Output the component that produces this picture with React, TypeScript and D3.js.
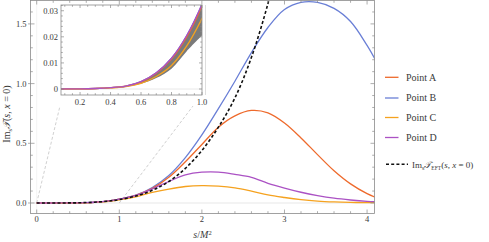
import React from "react";
import * as d3 from "d3";

// ---------- data ----------
const sGrid = [0, 0.1, 0.2, 0.3, 0.4, 0.5, 0.6, 0.7, 0.8, 0.9, 1.0, 1.2, 1.4, 1.6, 1.8, 2.0, 2.2, 2.4, 2.6, 2.8, 3.0, 3.2, 3.4, 3.6, 3.8, 4.0, 4.1];
const pointA = [0, 0.00001, 0.00005, 0.0002, 0.0005, 0.0011, 0.0027, 0.006, 0.0115, 0.02, 0.0318, 0.064, 0.122, 0.215, 0.345, 0.49, 0.635, 0.73, 0.775, 0.755, 0.67, 0.545, 0.405, 0.27, 0.16, 0.078, 0.048];
const pointB = [0, 0.00001, 0.00005, 0.0002, 0.0005, 0.0011, 0.0028, 0.0062, 0.0118, 0.0205, 0.0325, 0.065, 0.13, 0.23, 0.38, 0.57, 0.79, 1.02, 1.26, 1.47, 1.62, 1.68, 1.68, 1.63, 1.52, 1.32, 1.2];
const pointC = [0, 0.00001, 0.00004, 0.00015, 0.0004, 0.0009, 0.0022, 0.0048, 0.009, 0.0165, 0.027, 0.052, 0.088, 0.117, 0.138, 0.145, 0.141, 0.127, 0.1, 0.068, 0.046, 0.028, 0.016, 0.009, 0.005, 0.003, 0.003];
const pointD = [0, 0.00001, 0.00005, 0.0002, 0.0005, 0.0011, 0.0028, 0.0062, 0.0118, 0.0205, 0.0325, 0.063, 0.118, 0.18, 0.235, 0.258, 0.259, 0.24, 0.215, 0.165, 0.125, 0.09, 0.062, 0.04, 0.025, 0.014, 0.011];

const sEft = [0, 0.1, 0.2, 0.3, 0.4, 0.5, 0.6, 0.7, 0.8, 0.9, 1.0, 1.2, 1.4, 1.6, 1.8, 2.0, 2.2, 2.4, 2.6, 2.8, 2.9];
const eft = [0, 0, 0.00004, 0.0002, 0.0007, 0.0017, 0.0036, 0.0067, 0.0115, 0.0184, 0.028, 0.058, 0.106, 0.18, 0.29, 0.44, 0.635, 0.88, 1.22, 1.67, 1.95];

const bandS = [0.3, 0.4, 0.5, 0.6, 0.7, 0.8, 0.9, 1.0];
const bandLower = [0.00015, 0.0004, 0.0008, 0.002, 0.0042, 0.0078, 0.0145, 0.0205];
const bandUpper = [0.0002, 0.0005, 0.0011, 0.0028, 0.0062, 0.0118, 0.0205, 0.0325];

const seriesNames = ["Point A", "Point B", "Point C", "Point D"];
const seriesColors = ["#EE6A2C", "#6A7FD6", "#F5A21F", "#AB52C4"];
const seriesValues = [pointA, pointB, pointC, pointD];
const drawOrder = [1, 0, 2, 3];

const xTicksMain = [0, 1, 2, 3, 4];
const yTicksMain = [0, 0.5, 1.0, 1.5];
const yTickLabelsMain = ["0.0", "0.5", "1.0", "1.5"];
const xTicksInset = [0.2, 0.4, 0.6, 0.8, 1.0];
const xTickLabelsInset = ["0.2", "0.4", "0.6", "0.8", "1.0"];
const yTicksInset = [0, 0.01, 0.02, 0.03];
const yTickLabelsInset = ["0", "0.01", "0.02", "0.03"];

// ---------- layout ----------
const W = 489;
const H = 242;
const FONT = "'Liberation Serif', 'Times New Roman', serif";
const FRAME = "#8a8a8a";
const LABEL = "#3a3a3a";

const main = { left: 30.5, right: 374.5, top: 0.5, bottom: 213.5 };
const inset = { left: 61, right: 202, top: 5, bottom: 95 };

const x = d3.scaleLinear().domain([-0.075, 4.09]).range([main.left, main.right]);
const y = d3.scaleLinear().domain([-0.088, 1.696]).range([main.bottom, main.top]);
const ix = d3.scaleLinear().domain([0.075, 1.0]).range([inset.left, inset.right]);
const iy = d3.scaleLinear().domain([-0.0023, 0.0322]).range([inset.bottom, inset.top]);

const range = (a: number, b: number, step: number) => {
  const out: number[] = [];
  for (let i = 0; a + i * step <= b + 1e-9; i++) out.push(+(a + i * step).toFixed(6));
  return out;
};

function Ticks({ xs, ys, xt, yt, xMinor, yMinor, box, len, minorLen }: any) {
  const els: any[] = [];
  const isMajorX = (v: number) => xt.some((t: number) => Math.abs(t - v) < 1e-6);
  const isMajorY = (v: number) => yt.some((t: number) => Math.abs(t - v) < 1e-6);
  xMinor.forEach((v: number, i: number) => {
    const px = xs(v);
    if (px < box.left || px > box.right) return;
    const l = isMajorX(v) ? len : minorLen;
    els.push(<line key={"xb" + i} x1={px} x2={px} y1={box.bottom} y2={box.bottom - l} />);
    els.push(<line key={"xt" + i} x1={px} x2={px} y1={box.top} y2={box.top + l} />);
  });
  yMinor.forEach((v: number, i: number) => {
    const py = ys(v);
    if (py < box.top || py > box.bottom) return;
    const l = isMajorY(v) ? len : minorLen;
    els.push(<line key={"yl" + i} x1={box.left} x2={box.left + l} y1={py} y2={py} />);
    els.push(<line key={"yr" + i} x1={box.right} x2={box.right - l} y1={py} y2={py} />);
  });
  return <g stroke={FRAME} strokeWidth={0.7}>{els}</g>;
}

export default function App() {
  const lineMain = (xs: number[], vs: number[]) =>
    d3.line<number>().x((_, i) => x(xs[i])).y((v) => y(v)).curve(d3.curveCatmullRom.alpha(0.5))(vs) || "";
  const lineInset = (xs: number[], vs: number[]) =>
    d3.line<number>().x((_, i) => ix(xs[i])).y((v) => iy(v)).curve(d3.curveCatmullRom.alpha(0.5))(vs) || "";
  const bandPath =
    d3.area<number>()
      .x((_, i) => ix(bandS[i]))
      .y0((_, i) => iy(bandLower[i]))
      .y1((v) => iy(v))
      .curve(d3.curveCatmullRom.alpha(0.5))(bandUpper) || "";

  const legendY = [77.3, 98, 117.5, 137.5];

  return (
    <svg width={W} height={H} style={{ position: "absolute", left: 0, top: 0, background: "#fff", fontFamily: FONT }}>
      <defs>
        <clipPath id="mainClip">
          <rect x={main.left} y={main.top} width={main.right - main.left} height={main.bottom - main.top} />
        </clipPath>
        <clipPath id="insetClip">
          <rect x={inset.left} y={inset.top} width={inset.right - inset.left} height={inset.bottom - inset.top} />
        </clipPath>
      </defs>

      {/* main zero axis lines */}
      <line x1={main.left} x2={main.right} y1={y(0)} y2={y(0)} stroke="#e2e2e2" strokeWidth={0.8} />
      <line x1={x(0)} x2={x(0)} y1={main.top} y2={main.bottom} stroke="#f0f0f0" strokeWidth={0.8} />

      {/* connectors to the inset */}
      <g stroke="#c4c4c4" strokeWidth={0.8} strokeDasharray="3,2" fill="none">
        <line x1={x(0)} y1={y(0)} x2={60} y2={106} />
        <line x1={x(1)} y1={y(0)} x2={193} y2={106} />
      </g>

      {/* main curves */}
      <g clipPath="url(#mainClip)" fill="none">
        {drawOrder.map((k) => (
          <path key={k} d={lineMain(sGrid, seriesValues[k])} stroke={seriesColors[k]} strokeWidth={1.3} />
        ))}
        <path d={lineMain(sEft, eft)} stroke="#111" strokeWidth={1.6} strokeDasharray="3,2.2" />
      </g>

      {/* main frame */}
      <rect x={main.left} y={main.top} width={main.right - main.left} height={main.bottom - main.top} fill="none" stroke={FRAME} strokeWidth={0.8} />
      <Ticks xs={x} ys={y} xt={xTicksMain} yt={yTicksMain} xMinor={range(0, 4.0, 0.2)} yMinor={range(0, 1.6, 0.1)} box={main} len={4} minorLen={2.3} />
      <g stroke={FRAME} strokeWidth={0.7}>
        {yTicksMain.map((t, i) => (
          <line key={i} x1={main.left - 2.5} x2={main.left} y1={y(t)} y2={y(t)} />
        ))}
      </g>

      {/* main tick labels */}
      <g fontSize={8.5} fill={LABEL}>
        {xTicksMain.map((t, i) => (
          <text key={i} x={x(t)} y={222} textAnchor="middle">{t}</text>
        ))}
        {yTicksMain.map((t, i) => (
          <text key={i} x={26.5} y={y(t) + 3} textAnchor="end">{yTickLabelsMain[i]}</text>
        ))}
      </g>

      {/* axis labels */}
      <text x={(main.left + main.right) / 2} y={238} textAnchor="middle" fontSize={10} fill={LABEL}>
        <tspan fontStyle="italic">s</tspan>/<tspan fontStyle="italic">M</tspan>
        <tspan fontSize={6.5} dy={-3.5}>2</tspan>
      </text>
      <text transform={`translate(10,${114}) rotate(-90)`} textAnchor="middle" fontSize={10} fill={LABEL}>
        Im<tspan fontSize={6.5} dy={2}>s</tspan>
        <tspan dy={-2} fontStyle="italic">{"\u{1D4AF}"}</tspan>(<tspan fontStyle="italic">s</tspan>, <tspan fontStyle="italic">x</tspan> = 0)
      </text>

      {/* inset */}
      <rect x={inset.left} y={inset.top} width={inset.right - inset.left} height={inset.bottom - inset.top} fill="#fff" />
      <line x1={inset.right + 3.5} x2={inset.right + 3.5} y1={inset.top} y2={inset.bottom} stroke="#dedede" strokeWidth={1} />
      <line x1={inset.left} x2={inset.right} y1={iy(0)} y2={iy(0)} stroke="#e2e2e2" strokeWidth={0.8} />
      <g clipPath="url(#insetClip)">
        <path d={bandPath} fill="#7a7a7a" />
        <g fill="none">
          {drawOrder.map((k) => (
            <path key={k} d={lineInset(sGrid, seriesValues[k])} stroke={seriesColors[k]} strokeWidth={1.3} />
          ))}
        </g>
      </g>
      <rect x={inset.left} y={inset.top} width={inset.right - inset.left} height={inset.bottom - inset.top} fill="none" stroke={FRAME} strokeWidth={0.8} />
      <Ticks xs={ix} ys={iy} xt={xTicksInset} yt={yTicksInset} xMinor={range(0.1, 1.0, 0.05)} yMinor={range(0, 0.032, 0.002)} box={inset} len={3} minorLen={1.8} />
      <g fontSize={8.5} fill={LABEL}>
        {xTicksInset.map((t, i) => (
          <text key={i} x={ix(t)} y={104.5} textAnchor="middle">{xTickLabelsInset[i]}</text>
        ))}
        {yTicksInset.map((t, i) => (
          <text key={i} x={58} y={iy(t) + 3} textAnchor="end">{yTickLabelsInset[i]}</text>
        ))}
      </g>

      {/* legend */}
      <g fontSize={10} fill={LABEL}>
        {seriesNames.map((n, i) => (
          <g key={n}>
            <line x1={385} x2={398.5} y1={legendY[i]} y2={legendY[i]} stroke={seriesColors[i]} strokeWidth={1.3} />
            <text x={406} y={legendY[i] + 3.3}>{n}</text>
          </g>
        ))}
        <line x1={386} x2={408} y1={164.3} y2={164.3} stroke="#111" strokeWidth={1.6} strokeDasharray="3,2.2" />
        <text x={412} y={167.5} fontSize={9}>
          Im<tspan fontSize={6} dy={2}>s</tspan>
          <tspan dy={-2} fontStyle="italic">{"\u{1D4AF}"}</tspan>
          <tspan fontSize={5.5} dy={2}>EFT</tspan>
          <tspan dy={-2}>(</tspan><tspan fontStyle="italic">s</tspan>, <tspan fontStyle="italic">x</tspan> = 0)
        </text>
      </g>
    </svg>
  );
}
